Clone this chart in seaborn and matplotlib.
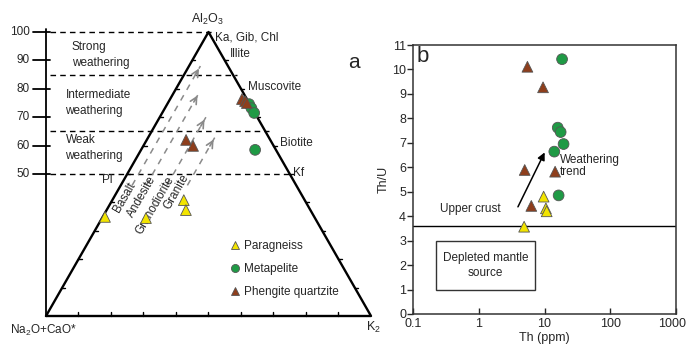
import numpy as np
import pandas as pd
import seaborn as sns
import matplotlib.pyplot as plt
from matplotlib.patches import Rectangle
from matplotlib.ticker import FixedLocator, NullFormatter
from matplotlib.transforms import ScaledTranslation

# --- data: A-CN-K ternary (percent Al2O3 and K2O, CN is the remainder) ---
tern_rock = ["Paragneiss"] * 4 + ["Metapelite"] * 4 + ["Phengite quartzite"] * 5
tern_A = [34.9, 34.5, 40.8, 37.3, 74.6, 73.2, 71.5, 58.5, 76.4, 75.7, 75.0, 62.0, 59.9]
tern_K = [0.7, 13.5, 22.0, 24.4, 25.2, 26.6, 28.3, 35.1, 22.1, 23.4, 24.3, 12.1, 15.3]

# --- data: Th vs Th/U ---
th_rock = ["Paragneiss"] * 4 + ["Metapelite"] * 6 + ["Phengite quartzite"] * 5
th_ppm = [4.9, 9.7, 10.5, 10.8, 18.5, 15.9, 17.6, 19.5, 14.1, 16.4, 5.5, 9.5, 5.0, 14.5, 6.3]
th_u = [3.57, 4.8, 4.32, 4.2, 10.42, 7.62, 7.44, 6.95, 6.64, 4.85, 10.11, 9.27, 5.89, 5.82, 4.42]

cia_ticks = [50, 60, 70, 80, 90, 100]
cia_lines = [100, 85, 65, 50]
zones = [("Strong\nweathering", 0.08, 92.0), ("Intermediate\nweathering", 0.06, 75.0),
         ("Weak\nweathering", 0.06, 59.0)]
minerals = [("Ka, Gib, Chl", 0.52, 98.2), ("Illite", 0.566, 92.3), ("Muscovite", 0.622, 80.6),
            ("Biotite", 0.72, 60.9), ("Kf", 0.76, 50.4)]
trend_K = [0.035, 0.078, 0.142, 0.205]
trend_top = [88.0, 78.5, 70.0, 63.0]
rock_labels = [("Basalt", 0.243, 41.9), ("Andesite", 0.295, 41.9), ("Granodiorite", 0.335, 39.0),
               ("Granite", 0.40, 43.7)]
th_xticks = [0.1, 1, 10, 100, 1000]
upper_crust = 3.6

order = ["Paragneiss", "Metapelite", "Phengite quartzite"]
palette = {"Paragneiss": "#f2e400", "Metapelite": "#1f9a45", "Phengite quartzite": "#8e3e1c"}
markers = {"Paragneiss": "^", "Metapelite": "o", "Phengite quartzite": "^"}

sns.set_theme(style="white")
plt.rcParams["font.family"] = ["Liberation Sans", "DejaVu Sans"]
plt.rcParams["mathtext.default"] = "regular"
FS = 8.5

fig = plt.figure(figsize=(6.86, 3.47), dpi=100)

# ---------------- left panel: ternary ----------------
ax = fig.add_axes([0, 0, 390 / 686, 1])
ax.set_xlim(-46 / 325, 344 / 325)
ax.set_ylim(-31 / 2.84, 316 / 2.84)
ax.axis("off")

tri = pd.DataFrame({"rock": tern_rock, "A": tern_A, "K": tern_K})
tri["X"] = tri["K"] / 100 + tri["A"] / 200

k = dict(color="black", lw=1.7, solid_capstyle="round")
ax.plot([0, 1, 0.5, 0], [0, 0, 100, 0], **k)
ax.plot([0, 0], [0, 101], color="black", lw=1.3)
for t in cia_ticks:
    ax.plot([-0.04, 0.012], [t, t], color="black", lw=1.3)
    ax.text(-0.049, t, str(t), ha="right", va="center", fontsize=FS)
for i in range(1, 10):
    f = i / 10
    ax.plot([f, f], [0, 1.3], color="black", lw=1)
    ax.plot([f * 0.5, f * 0.5 + 0.01], [f * 100, f * 100], color="black", lw=1)
    ax.plot([1 - f * 0.5, 1 - f * 0.5 + 0.01], [f * 100, f * 100], color="black", lw=1)
for v in cia_lines:
    ax.plot([0.012, 1 - v / 200 + 0.012], [v, v], color="black", lw=1, ls=(0, (4, 3)))

for txt, x, y in zones:
    ax.text(x, y, txt, ha="left", va="center", fontsize=FS, linespacing=1.45)
for txt, x, y in minerals:
    ax.text(x, y, txt, ha="left", va="center", fontsize=FS)
ax.text(0.19, 47.9, "Pl", ha="center", va="center", fontsize=FS)
for txt, x, y in rock_labels:
    ax.text(x, y, txt, ha="center", va="center", fontsize=FS, rotation=60)

gray = "#8a8a8a"
for kk, top in zip(trend_K, trend_top):
    v0 = 46.0
    ax.plot([kk + v0 / 200, kk + top / 200], [v0, top], color=gray, lw=1.1, ls=(0, (4, 4)))
    ax.annotate("", xy=(kk + top / 200, top), xytext=(kk + (top - 4) / 200, top - 4),
                arrowprops=dict(arrowstyle="->", color=gray, lw=1.2, mutation_scale=12))

ax.text(0.495, 104.5, r"Al$_2$O$_3$", ha="center", va="center", fontsize=FS + 0.5)
ax.text(-0.009, -5.2, r"Na$_2$O+CaO*", ha="center", va="center", fontsize=FS)
ax.text(0.985, -4.2, r"K$_2$", ha="left", va="center", fontsize=FS + 0.5)

sns.scatterplot(data=tri, x="X", y="A", hue="rock", style="rock", hue_order=order,
                style_order=order, palette=palette, markers=markers, s=60,
                edgecolor="#555555", linewidth=0.6, ax=ax, zorder=5, clip_on=False)
ax.set_xlim(-46 / 325, 344 / 325)
ax.set_ylim(-31 / 2.84, 316 / 2.84)
ax.legend(loc="upper left", bbox_to_anchor=(229 / 390, 1 - 240 / 347), frameon=False,
          fontsize=FS, markerscale=0.75, handlelength=1.0, handletextpad=0.3,
          labelspacing=0.95, borderpad=0, borderaxespad=0)

fig.text(354 / 686, 1 - 62 / 347, "a", fontsize=15, ha="center", va="center")

# ---------------- right panel: Th vs Th/U ----------------
bx = fig.add_axes([413 / 686, 33 / 347, 263 / 686, 269 / 347])
thdf = pd.DataFrame({"rock": th_rock, "Th": th_ppm, "ThU": th_u})
bx.axhline(upper_crust, color="black", lw=1)
sns.scatterplot(data=thdf, x="Th", y="ThU", hue="rock", style="rock", hue_order=order,
                style_order=order, palette=palette, markers=markers, s=60,
                edgecolor="#555555", linewidth=0.6, ax=bx, zorder=5, legend=False)
bx.set_xscale("log")
bx.set_xlim(0.1, 1000)
bx.set_ylim(0, 11)
bx.set_yticks(range(0, 12))
bx.xaxis.set_major_locator(FixedLocator(th_xticks))
bx.set_xticklabels([str(t) for t in th_xticks])
bx.xaxis.set_minor_locator(FixedLocator([m * 10.0 ** e for e in range(-1, 3) for m in range(2, 10)]))
bx.xaxis.set_minor_formatter(NullFormatter())
bx.tick_params(axis="x", which="major", direction="in", length=4, width=1, labelsize=FS + 0.5, pad=3)
bx.tick_params(axis="x", which="minor", direction="in", length=2.5, width=0.8)
bx.tick_params(axis="y", which="major", direction="out", length=4, width=1, labelsize=FS + 0.5, pad=1,
               left=True)
bx.tick_params(axis="x", bottom=True)
last = bx.get_xticklabels()[-1]
last.set_transform(last.get_transform() + ScaledTranslation(-4 / 100, 0, fig.dpi_scale_trans))
for s in bx.spines.values():
    s.set_color("#333333")
    s.set_linewidth(1.1)
bx.set_xlabel("Th (ppm)", fontsize=FS + 0.5, labelpad=1)
bx.set_ylabel("Th/U", fontsize=FS + 0.5, labelpad=2)

bx.annotate("", xy=(10.5, 6.71), xytext=(3.78, 4.28),
            arrowprops=dict(arrowstyle="-|>", color="black", lw=1.1, mutation_scale=11))
bx.text(0.74, 4.3, "Upper crust", ha="center", va="center", fontsize=FS)
bx.text(17.0, 6.05, "Weathering\ntrend", ha="left", va="center", fontsize=FS, linespacing=1.1)
bx.add_patch(Rectangle((0.224, 1.0), 7.2 - 0.224, 2.0, fill=False, edgecolor="#333333", lw=1))
bx.text(1.27, 2.0, "Depleted mantle\nsource", ha="center", va="center", fontsize=FS, linespacing=1.35)
bx.text(0.115, 10.55, "b", ha="left", va="center", fontsize=16)

fig.savefig("out.png", dpi=100)
